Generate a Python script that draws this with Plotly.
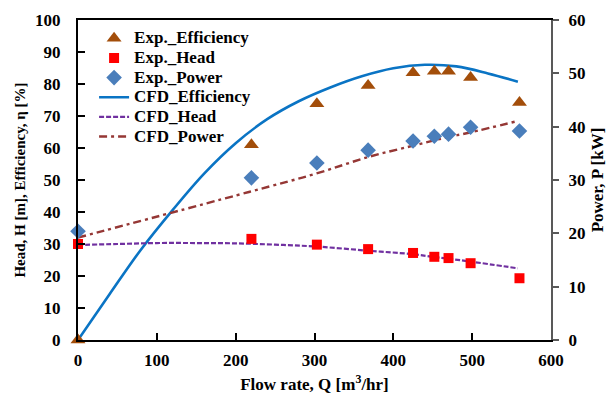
import plotly.graph_objects as go

# Experimental measurements
q_exp = [0, 220, 303, 368, 425, 452, 470, 498, 560]
eff_exp = [0, 61, 73.8, 79.5, 83.5, 84, 84, 82, 74.2]
head_exp = [30, 31.6, 29.8, 28.4, 27.2, 26, 25.6, 24, 19.3]
power_exp = [20.4, 30.4, 33.2, 35.6, 37.3, 38.2, 38.6, 39.9, 39.2]

# CFD predictions
q_cfd_eff = [0, 40, 80, 120, 160, 200, 240, 280, 320, 360, 400, 440, 480, 520, 558]
eff_cfd = [0, 14.3, 28.3, 40.6, 52, 61.5, 69, 74.6, 78.9, 82.4, 84.9, 86, 85.5, 83.3, 80.7]
q_cfd_head = [0, 50, 100, 150, 200, 250, 303, 368, 425, 452, 470, 498, 558]
head_cfd = [29.7, 30, 30.3, 30.3, 30.2, 29.8, 29.2, 27.9, 26.8, 25.9, 25.4, 24.5, 22.4]
q_cfd_pow = [0, 218, 302, 368, 424, 468, 497, 556]
power_cfd = [19.2, 27.8, 31.2, 34.3, 36.4, 38.0, 38.9, 41.0]

FONT = "Liberation Serif"


def label(s):
    # legend rows stay compact while the label itself is drawn larger
    return f'<span style="font-size:17px">{s}</span>'


fig = go.Figure()

# lines first so the measured markers sit on top
fig.add_trace(go.Scatter(x=q_cfd_eff, y=eff_cfd, mode="lines", name=label("CFD_Efficiency"),
                         line=dict(color="#0A74C4", width=2.6, shape="spline"), legendrank=4))
fig.add_trace(go.Scatter(x=q_cfd_head, y=head_cfd, mode="lines", name=label("CFD_Head"),
                         line=dict(color="#7030A0", width=2.2, dash="5px,2px", shape="spline"), legendrank=5))
fig.add_trace(go.Scatter(x=q_cfd_pow, y=power_cfd, mode="lines", name=label("CFD_Power"), yaxis="y2",
                         line=dict(color="#953735", width=2.4, dash="8px,4px,3px,4px", shape="spline"),
                         legendrank=6))

fig.add_trace(go.Scatter(x=q_exp, y=eff_exp, mode="markers", name=label("Exp._Efficiency"),
                         marker=dict(symbol="triangle-up", size=13, color="#A34E0A"),
                         cliponaxis=False, legendrank=1))
fig.add_trace(go.Scatter(x=q_exp, y=head_exp, mode="markers", name=label("Exp._Head"),
                         marker=dict(symbol="square", size=10, color="#FF0000"),
                         cliponaxis=False, legendrank=2))
fig.add_trace(go.Scatter(x=q_exp, y=power_exp, mode="markers", name=label("Exp._Power"), yaxis="y2",
                         marker=dict(symbol="diamond", size=12, color="#4A7EBB"),
                         cliponaxis=False, legendrank=3))

tick_font = dict(family=FONT, size=17, color="black", weight="bold")

fig.update_layout(
    width=608, height=394,
    margin=dict(l=78, r=57, t=20, b=54),
    paper_bgcolor="white", plot_bgcolor="white",
    font=dict(family=FONT, size=14, color="black"),
    showlegend=True,
    legend=dict(x=0.034, y=0.989, xanchor="left", yanchor="top",
                bgcolor="rgba(0,0,0,0)",
                font=dict(family=FONT, size=12.8, color="black", weight="bold"),
                traceorder="normal"),
    xaxis=dict(range=[0, 600], tickvals=list(range(0, 601, 100)), automargin=False,
               ticks="inside", ticklen=7, tickwidth=2, tickcolor="black",
               showline=True, linecolor="black", linewidth=2, mirror=True,
               showgrid=False, zeroline=False, tickfont=tick_font, ticklabelstandoff=4,
               title=dict(text="Flow rate, Q [m<sup>3</sup>/hr]",
                          font=dict(family=FONT, size=17, weight="bold"), standoff=13)),
    yaxis=dict(range=[0, 100], tickvals=list(range(0, 101, 10)), automargin=False,
               ticks="inside", ticklen=7, tickwidth=2, tickcolor="black",
               showline=True, linecolor="black", linewidth=2,
               showgrid=False, zeroline=False, tickfont=tick_font, ticklabelstandoff=12,
               title=dict(text="Head, H [m], Efficiency, η [%]",
                          font=dict(family=FONT, size=15, weight="bold"), standoff=6)),
    yaxis2=dict(range=[0, 60], tickvals=list(range(0, 61, 10)), overlaying="y", side="right",
                automargin=False,
                ticks="outside", ticklen=6, tickwidth=2, tickcolor="#595959",
                showline=True, linecolor="#595959", linewidth=2,
                showgrid=False, zeroline=False, tickfont=tick_font, ticklabelstandoff=6,
                title=dict(text="Power, P [kW]",
                           font=dict(family=FONT, size=17, weight="bold"), standoff=7)),
)

fig.write_html("out.html")
